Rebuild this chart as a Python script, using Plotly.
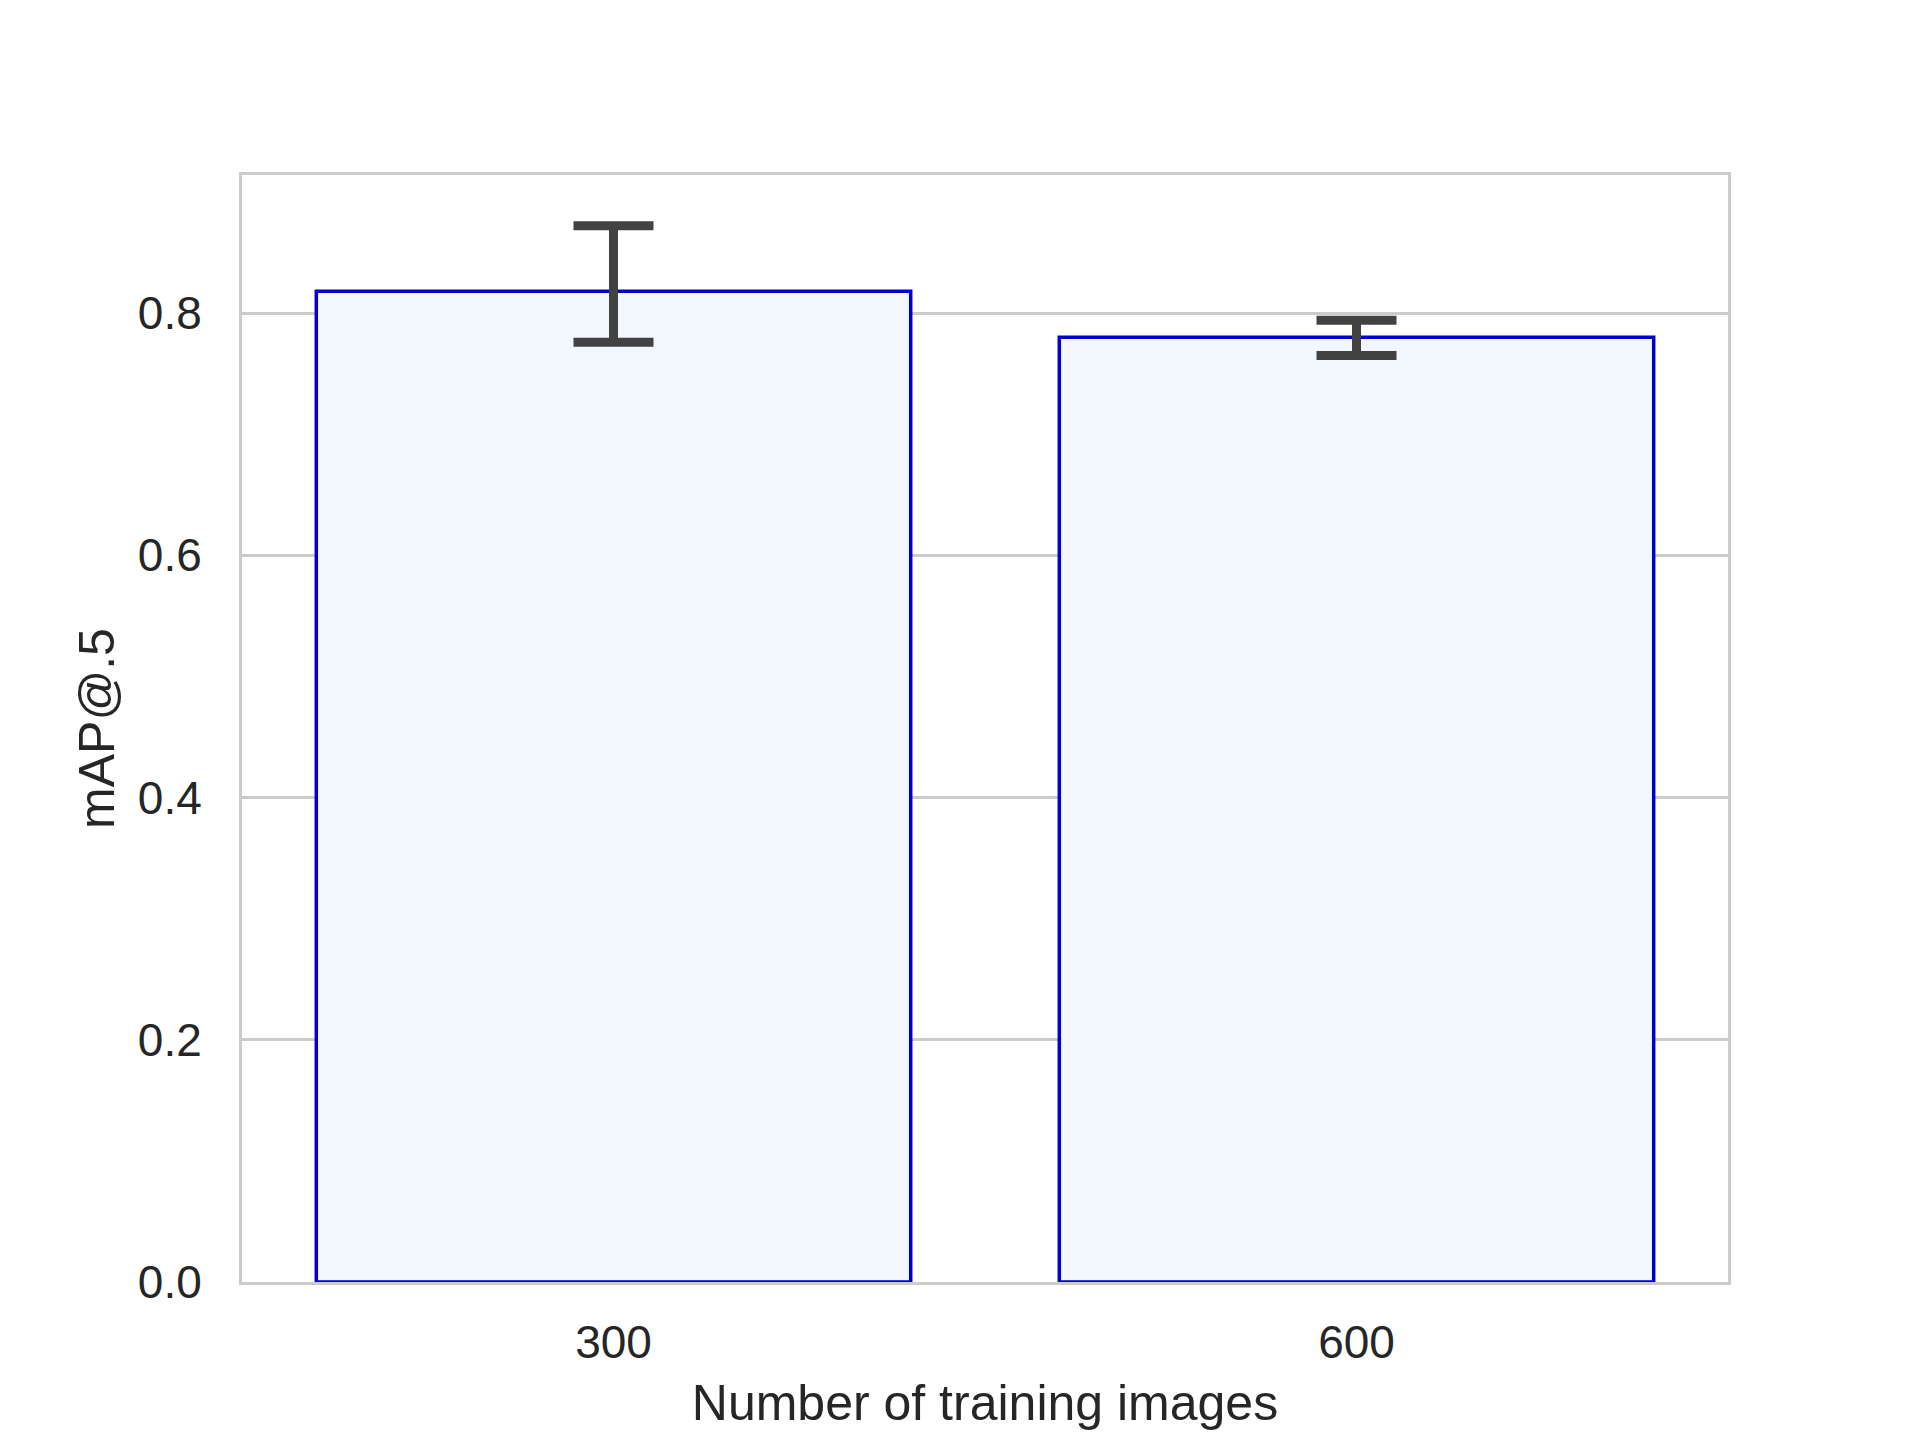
import plotly.graph_objects as go

categories = ["300", "600"]
map50 = [0.818, 0.780]
err_upper = [0.872, 0.794]
err_lower = [0.776, 0.765]
y_ticks = [0.0, 0.2, 0.4, 0.6, 0.8]

err_plus = [u - v for u, v in zip(err_upper, map50)]
err_minus = [v - l for l, v in zip(err_lower, map50)]

fig = go.Figure()
fig.add_trace(go.Bar(
    x=categories,
    y=map50,
    width=0.8,
    marker=dict(color="#f2f6fd", line=dict(color="#0000cc", width=3.5)),
    error_y=dict(type="data", symmetric=False, array=err_plus, arrayminus=err_minus,
                 color="#424242", thickness=9, width=40),
    showlegend=False,
))

font_family = "Liberation Sans, Arial, sans-serif"
fig.update_layout(
    width=1920, height=1440,
    margin=dict(l=234, r=200, t=167, b=166, autoexpand=False),
    paper_bgcolor="white", plot_bgcolor="white",
    font=dict(family=font_family, color="#262626", size=46),
    bargap=0.2,
)
fig.update_xaxes(
    type="category", range=[-0.5, 1.5],
    showgrid=False, showline=True, mirror=True, linecolor="#cccccc", linewidth=3,
    ticks="outside", ticklen=18, tickcolor="rgba(0,0,0,0)",
    tickfont=dict(size=46),
    title=dict(text="Number of training images", font=dict(size=50), standoff=18),
    automargin=False,
)
fig.update_yaxes(
    range=[0, 0.914], tickvals=y_ticks, tickformat=".1f",
    showgrid=True, gridcolor="#cccccc", gridwidth=3,
    showline=True, mirror=True, linecolor="#cccccc", linewidth=3,
    zeroline=False,
    ticks="outside", ticklen=28, tickcolor="rgba(0,0,0,0)",
    tickfont=dict(size=46),
    title=dict(text="mAP@.5", font=dict(size=50), standoff=8),
    automargin=False,
)

fig.write_html("out.html")
